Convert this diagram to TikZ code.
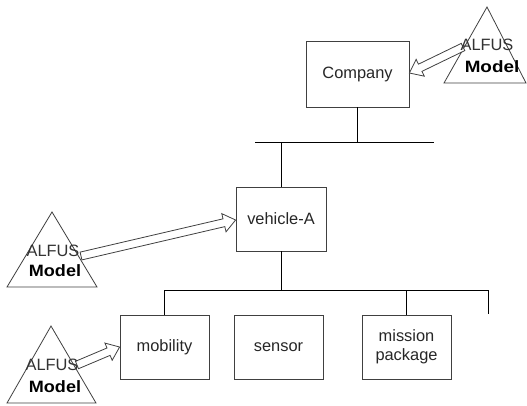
\documentclass[tikz,border=0pt]{standalone}
\usepackage{fontspec}
\usepackage{graphicx}
\setmainfont{Liberation Sans}
\usetikzlibrary{calc}
\begin{document}
\begin{tikzpicture}[x=0.75pt,y=-0.75pt,
  txt/.style={font=\fontsize{12.3}{14.5}\selectfont},
  box/.style={draw=black!75, line width=0.6pt, txt, align=center, inner sep=0pt,
              minimum width=67pt, minimum height=48pt, text=black!85},
  link/.style={draw=black, line width=0.6pt},
  tri/.style={draw=black!75, line width=0.6pt, fill=white},
  lbl/.style={txt, inner sep=0pt, text=black!80},
  lblb/.style={lbl, font=\fontsize{12.3}{14.5}\selectfont\bfseries, text=black},
  blockarrow/.style={draw=black!75, line width=0.6pt, fill=white, to path={
    let \p1=($(\tikztotarget)!9pt!(\tikztostart)$) in
    ($(\tikztostart)!3pt!90:(\tikztotarget)$) -- ($(\p1)!3pt!90:(\tikztotarget)$)
    -- ($(\p1)!7pt!90:(\tikztotarget)$) -- (\tikztotarget)
    -- ($(\p1)!7pt!-90:(\tikztotarget)$) -- ($(\p1)!3pt!-90:(\tikztotarget)$)
    -- ($(\tikztostart)!3pt!-90:(\tikztotarget)$) -- cycle}}]
\useasboundingbox (0,0) rectangle (527,405);

% boxes
\node[box, minimum width=77.25pt, minimum height=49.5pt] (company) at (357.5,74) {Company};
\node[box, minimum width=67.5pt] (vehicle) at (281,219) {vehicle-A};
\node[box, minimum width=66.75pt] (mobility) at (164.5,347) {mobility};
\node[box, minimum width=66.75pt] (sensor) at (278.5,347) {sensor};
\node[box, minimum width=66.75pt] (mission) at (406.5,347) {mission\\package};

% tree connectors
\coordinate (barAL) at (255,142);
\coordinate (barAR) at (434,142);
\coordinate (barBL) at (164.5,290);
\coordinate (barBR) at (488,290);
\coordinate (freeEnd) at (488,314);
\draw[link] (barAL) -- (barAR);
\draw[link] (company.south) -- (company.south |- barAL);
\draw[link] (vehicle.north |- barAL) -- (vehicle.north);
\draw[link] (barBL) -- (barBR);
\draw[link] (vehicle.south) -- (vehicle.south |- barBL);
\draw[link] (barBL) -- (mobility.north);
\draw[link] (mission.north |- barBL) -- (mission.north);
\draw[link] (barBR) -- (freeEnd);

% ALFUS triangles
\coordinate (triAtop) at (487,7);
\coordinate (triAl) at (444,83);
\coordinate (triAr) at (526,83);
\coordinate (triBtop) at (52,212);
\coordinate (triBl) at (7,287);
\coordinate (triBr) at (97,287);
\coordinate (triCtop) at (51,326);
\coordinate (triCl) at (7,403);
\coordinate (triCr) at (96,403);
\draw[tri] (triAtop) -- (triAl) -- (triAr) -- cycle;
\draw[tri] (triBtop) -- (triBl) -- (triBr) -- cycle;
\draw[tri] (triCtop) -- (triCl) -- (triCr) -- cycle;

% block arrows
\coordinate (arrA) at (463,47);
\coordinate (arrB) at (81,256);
\coordinate (arrC) at (77,365);
\coordinate (tipA) at (company.east |- 0,73);
\coordinate (tipB) at (vehicle.west |- 0,220);
\coordinate (tipC) at (mobility.west |- 0,347);
\draw[blockarrow] (arrA) to (tipA);
\draw[blockarrow] (arrB) to (tipB);
\draw[blockarrow] (arrC) to (tipC);

% labels
\node[lbl] (alfusA) at (487,45) {ALFUS};
\node[lblb] (modelA) at (492,67) {\scalebox{1.15}[1]{Model}};
\node[lbl] (alfusB) at (53,251) {ALFUS};
\node[lblb] (modelB) at (55,271) {\scalebox{1.1}[1]{Model}};
\node[lbl] (alfusC) at (52,365) {ALFUS};
\node[lblb] (modelC) at (55,387) {\scalebox{1.1}[1]{Model}};
\end{tikzpicture}
\end{document}
